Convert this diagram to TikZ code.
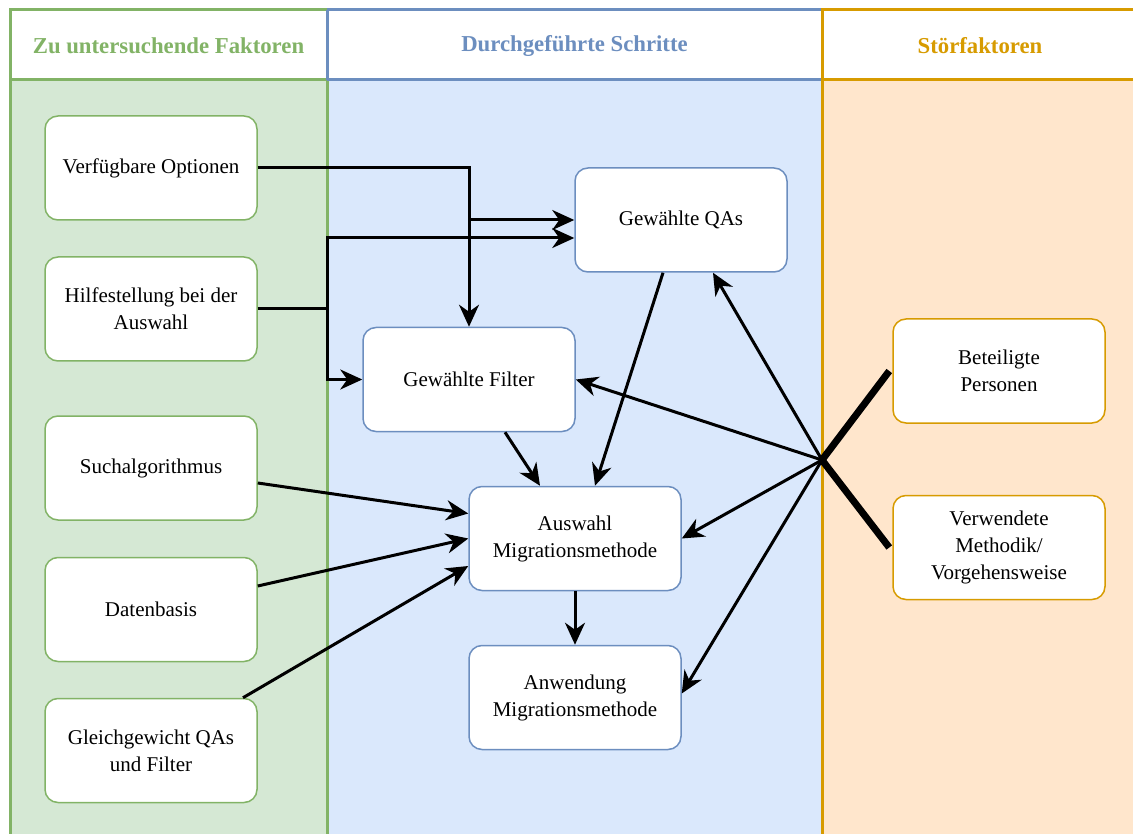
\documentclass[tikz,border=0pt]{standalone}
\usepackage{fontspec}
\setmainfont{Liberation Serif}
\usetikzlibrary{arrows.meta}
\definecolor{gstroke}{HTML}{82B366}
\definecolor{gfill}{HTML}{D5E8D4}
\definecolor{bstroke}{HTML}{6C8EBF}
\definecolor{bfill}{HTML}{DAE8FC}
\definecolor{ostroke}{HTML}{D79B00}
\definecolor{ofill}{HTML}{FFE6CC}
\tikzset{
  box/.style={draw, fill=white, rounded corners=13pt, line width=1.5pt,
    minimum width=212pt, minimum height=104pt, align=center, inner sep=2pt,
    font=\fontsize{21}{27}\selectfont},
  gbox/.style={box, draw=gstroke},
  bbox/.style={box, draw=bstroke},
  obox/.style={box, draw=ostroke},
  lanehead/.style={font=\fontsize{22.75}{27}\selectfont\bfseries},
  flow/.style={line width=3pt, -{Stealth[length=22pt,width=20pt,inset=7pt]}},
  bar/.style={line width=7pt, line cap=butt}
}
\begin{document}
\begin{tikzpicture}[x=1pt,y=-1pt]
\useasboundingbox (0,0) rectangle (1133,834);
\clip (0,0) rectangle (1133,834);
\fill[white] (0,0) rectangle (1133,834);
% swimlanes: header band and body
\fill[white] (10,10) rectangle (1140,80);
\fill[gfill] (10,80) rectangle (327,850);
\fill[bfill] (327,80) rectangle (822,850);
\fill[ofill] (822,80) rectangle (1140,850);
\draw[gstroke, line width=3pt] (10,850) -- (10,10) -- (327,10) -- (327,850) (10,80) -- (327,80);
\draw[bstroke, line width=3pt] (327,10) -- (822,10) (327,80) -- (822,80);
\draw[ostroke, line width=3pt] (822,850) -- (822,10) -- (1140,10) (822,80) -- (1140,80);
\draw[bstroke, line width=3pt] (327,10) -- (327,80);
\node[lanehead, text=gstroke] (hg) at (168.5,46) {Zu untersuchende Faktoren};
\node[lanehead, text=bstroke] (hb) at (574.5,46) {Durchgeführte Schritte};
\node[lanehead, text=ostroke] (ho) at (980,46) {Störfaktoren};

% factors under study
\node[gbox] (opt) at (151,168) {Verfügbare Optionen};
\node[gbox] (hil) at (151,309) {Hilfestellung bei der\\Auswahl};
\node[gbox] (such) at (151,468) {Suchalgorithmus};
\node[gbox] (dat) at (151,609.5) {Datenbasis};
\node[gbox] (gle) at (151,750.5) {Gleichgewicht QAs\\und Filter};

% performed steps
\node[bbox] (qas) at (681,220) {Gewählte QAs};
\node[bbox] (filt) at (469,379.5) {Gewählte Filter};
\node[bbox] (aus) at (575,538.5) {Auswahl\\Migrationsmethode};
\node[bbox] (anw) at (575,697.5) {Anwendung\\Migrationsmethode};

% confounders
\node[obox] (bet) at (999,371) {Beteiligte\\Personen};
\node[obox] (ver) at (999,547.5) {Verwendete\\Methodik/\\Vorgehensweise};

\coordinate (hj) at (327,309);
\coordinate (xp) at (822,460);

% connectors
\draw[flow] (opt.east) -| (filt.north);
\draw[flow] (opt.east) -- (filt.north |- opt.east) -- (filt.north |- qas.west) -- (qas.west);
\draw[flow] (hil.east) -- (hj) |- ([yshift=-18pt]qas.west);
\draw[flow] (hil.east) -- (hj) |- (filt.west);
\draw[flow] ([xshift=36pt]filt.south) -- ([xshift=-35pt]aus.north);
\draw[flow] ([xshift=-18pt]qas.south) -- ([xshift=20pt]aus.north);
\draw[flow] ([yshift=-15pt]such.east) -- ([yshift=25pt]aus.west);
\draw[flow] ([yshift=23.5pt]dat.east) -- (aus.west);
\draw[flow] ([xshift=92pt]gle.north) -- ([yshift=-27.5pt]aus.west);
\draw[flow] (aus.south) -- (anw.north);

\draw[flow] (xp) -- ([xshift=32pt]qas.south);
\draw[flow] (xp) -- (filt.east);
\draw[flow] (xp) -- (aus.east);
\draw[flow] (xp) -- ([yshift=4pt]anw.east);
\draw[bar] (xp) -- ([xshift=-3pt]bet.west);
\draw[bar] (xp) -- ([xshift=-3pt]ver.west);
\end{tikzpicture}
\end{document}
